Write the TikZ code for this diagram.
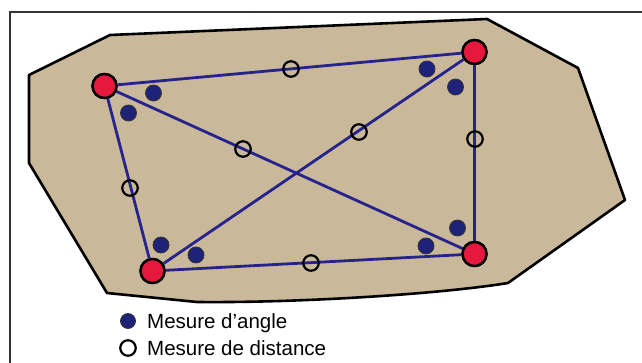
\documentclass[tikz,border=0pt]{standalone}
\usepackage{fontspec}
\setmainfont{Liberation Sans}
\definecolor{tan}{RGB}{201,184,154}
\definecolor{lineblue}{RGB}{38,36,140}
\definecolor{dotblue}{RGB}{30,34,120}
\definecolor{stationred}{RGB}{230,24,62}
\begin{document}
\begin{tikzpicture}[x=1pt,y=-1pt,
  station/.style={circle,fill=stationred,draw=black,line width=2.4pt,minimum size=24pt,inner sep=0pt},
  dist/.style={circle,draw=black,line width=2.2pt,minimum size=15.5pt,inner sep=0pt},
  angmark/.style={circle,fill=dotblue,draw=black!80,line width=0.8pt,minimum size=16pt,inner sep=0pt},
  baseline/.style={draw=lineblue,line width=2.8pt},
  legendtext/.style={anchor=base west,inner sep=0pt,font=\fontsize{20.5}{23}\selectfont}]
\useasboundingbox (0,0) rectangle (642,363);
\fill[white] (0,0) rectangle (642,363);
\draw[black!80,line width=1.2pt] (642,12) -- (10,12) -- (10,363);
% terrain
\draw[fill=tan,line width=2.6pt,line join=round]
  (29,75) -- (110,35) -- (487,19) -- (578,68) -- (625,200) -- (508,283)
  .. controls (440,294) and (300,303) .. (197,302) -- (107,293) -- (29,163) -- cycle;
% stations
\node[station] (tl) at (104.5,86) {};
\node[station] (tr) at (474.5,52) {};
\node[station] (bl) at (152.5,271) {};
\node[station] (br) at (474.5,254) {};
% baselines
\draw[baseline] (tl) -- (tr);
\draw[baseline] (tr) -- (br);
\draw[baseline] (br) -- (bl);
\draw[baseline] (bl) -- (tl);
\draw[baseline] (tl) -- (br);
\draw[baseline] (bl) -- (tr);
% redraw stations on top
\node[station] at (tl) {};
\node[station] at (tr) {};
\node[station] at (bl) {};
\node[station] at (br) {};
% distance measures
\node[dist] (d1) at (291,69) {};
\node[dist] (d2) at (130,188) {};
\node[dist] (d3) at (243,149) {};
\node[dist] (d4) at (359,132) {};
\node[dist] (d5) at (475,139) {};
\node[dist] (d6) at (311,263) {};
% angle measures
\node[angmark] (a1) at (153.5,93) {};
\node[angmark] (a2) at (128.5,113) {};
\node[angmark] (a3) at (427,69) {};
\node[angmark] (a4) at (455.5,87) {};
\node[angmark] (a5) at (161,245) {};
\node[angmark] (a6) at (196,255) {};
\node[angmark] (a7) at (426,246) {};
\node[angmark] (a8) at (457.5,228) {};
% legend
\node[angmark,minimum size=15pt] (la) at (128,321) {};
\node[dist] (ld) at (128,348) {};
\node[legendtext] (lta) at (147,328) {Mesure d’angle};
\node[legendtext] (ltd) at (147,355) {Mesure de distance};
\end{tikzpicture}
\end{document}
